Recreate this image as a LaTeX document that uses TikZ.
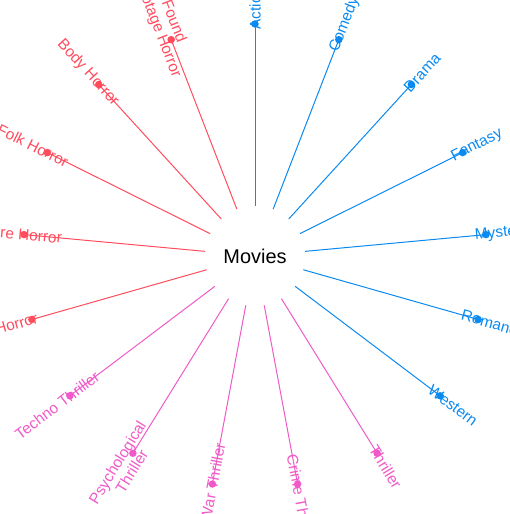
\documentclass[tikz,border=0pt]{standalone}
\usepackage{fontspec}
\setmainfont{Liberation Sans}
\usetikzlibrary{calc}
\definecolor{mapblue}{HTML}{0A8AF0}
\definecolor{mappink}{HTML}{F05AC8}
\definecolor{mapred}{HTML}{FF4D5E}
\begin{document}
\begin{tikzpicture}[
  x=1bp, y=1bp,
  spoke/.style={line width=1bp},
  leaf/.style={circle, fill, inner sep=0pt, minimum size=7.5bp},
  lab/.style={font=\fontsize{15.5}{17}\selectfont, align=center, inner sep=0pt},
  hub/.style={circle, minimum size=100bp, inner sep=0pt,
    font=\fontsize{20}{24}\selectfont}
]
\useasboundingbox (0,0) rectangle (510,514);
\clip (0,0) rectangle (510,514);
% ---- root ----
\node[hub] (movies) at (255,258) {Movies};
% ---- genres, clockwise from the top ----
\foreach \i/\genre/\col in {
    0/Action/mapblue, 1/Comedy/mapblue, 2/Drama/mapblue,
    3/Fantasy/mapblue, 4/Mystery/mapblue, 5/Romance/mapblue,
    6/Western/mapblue,
    7/Thriller/mappink, 8/Crime Thriller/mappink,
    9/Cold War Thriller/mappink, 10/{Psychological\\Thriller}/mappink,
    11/Techno Thriller/mappink,
    12/Horror/mapred, 13/Creature Horror/mapred, 14/Folk Horror/mapred,
    15/Body Horror/mapred, 16/{Found\\Footage Horror}/mapred} {
  \pgfmathsetmacro{\ang}{90-\i*360/17}
  \pgfmathsetmacro{\rot}{\ang<-90 ? \ang+180 : \ang}
  \coordinate (pos\i) at ($(movies.center)+(\ang:232)$);
  \draw[spoke, \col] (movies) -- (pos\i);
  \node[lab, \col, rotate=\rot] (lab\i) at ($(movies.center)+(\ang:248)$) {\genre};
  \node[leaf, \col] (dot\i) at (pos\i) {};
}
\end{tikzpicture}
\end{document}
